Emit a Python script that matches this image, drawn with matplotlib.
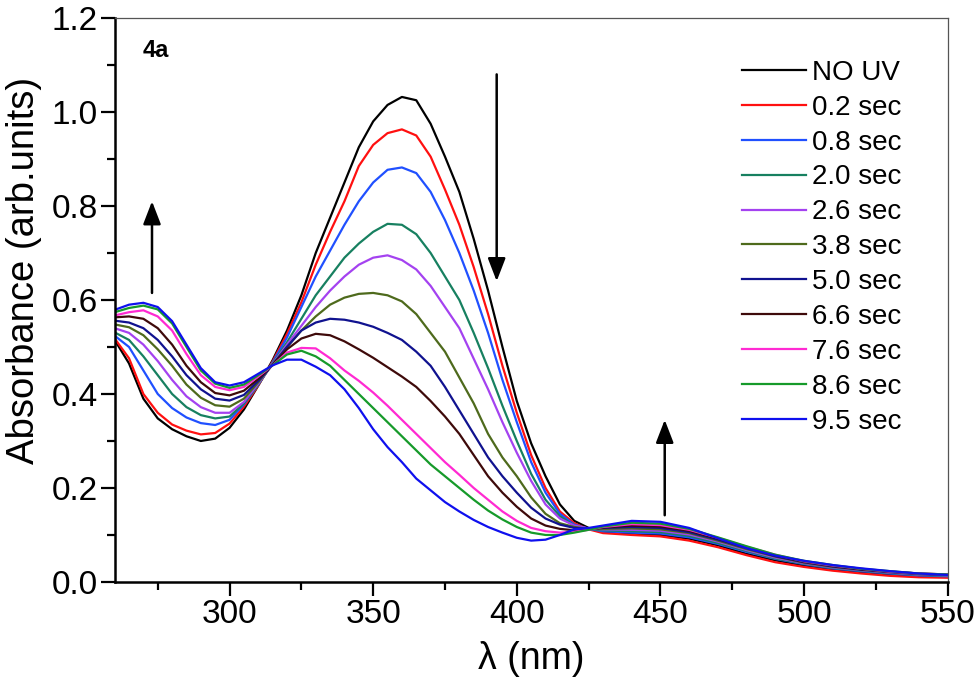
import numpy as np
import matplotlib
matplotlib.use("Agg")
import matplotlib.pyplot as plt
from matplotlib.ticker import MultipleLocator, FormatStrFormatter

plt.rcParams["font.family"] = ["Liberation Sans", "DejaVu Sans"]

# wavelength grid (nm)
wavelength = [260, 265, 270, 275, 280, 285, 290, 295, 300, 305, 310, 315,
              320, 325, 330, 335, 340, 345, 350, 355, 360, 365, 370, 375,
              380, 385, 390, 395, 400, 405, 410, 415, 420, 425,
              430, 440, 450, 460, 470, 480, 490, 500, 510, 520, 530, 540, 550]

labels = ["NO UV", "0.2 sec", "0.8 sec", "2.0 sec", "2.6 sec", "3.8 sec",
          "5.0 sec", "6.6 sec", "7.6 sec", "8.6 sec", "9.5 sec"]
colors = ["#000000", "#ff1010", "#2050ff", "#178060", "#a442f0", "#4e6a1c",
          "#10128f", "#3e0a0a", "#ff2ad2", "#169a2a", "#0f10ee"]

no_uv = [0.515, 0.465, 0.39, 0.348, 0.325, 0.31, 0.300, 0.305, 0.328, 0.367, 0.418, 0.472,
         0.535, 0.61, 0.70, 0.775, 0.85, 0.925, 0.98, 1.015, 1.032, 1.025, 0.975, 0.905,
         0.83, 0.73, 0.62, 0.50, 0.385, 0.295, 0.225, 0.165, 0.13, 0.115,
         0.106, 0.102, 0.10, 0.092, 0.078, 0.06, 0.046, 0.035, 0.027, 0.021, 0.016, 0.013, 0.012]
s0_2 = [0.518, 0.476, 0.40, 0.36, 0.335, 0.322, 0.314, 0.317, 0.337, 0.373, 0.418, 0.469,
        0.528, 0.595, 0.675, 0.745, 0.81, 0.885, 0.93, 0.955, 0.963, 0.95, 0.905, 0.835,
        0.76, 0.67, 0.57, 0.46, 0.36, 0.27, 0.20, 0.15, 0.125, 0.112,
        0.104, 0.10, 0.097, 0.088, 0.074, 0.057, 0.042, 0.032, 0.024, 0.018, 0.013, 0.01, 0.009]
s0_8 = [0.524, 0.50, 0.45, 0.40, 0.37, 0.35, 0.338, 0.334, 0.345, 0.378, 0.42, 0.467,
        0.52, 0.585, 0.65, 0.705, 0.76, 0.81, 0.85, 0.877, 0.882, 0.87, 0.83, 0.77,
        0.70, 0.62, 0.53, 0.43, 0.34, 0.255, 0.19, 0.145, 0.122, 0.113,
        0.108, 0.105, 0.103, 0.095, 0.081, 0.064, 0.049, 0.038, 0.029, 0.023, 0.018, 0.014, 0.012]
s2_0 = [0.531, 0.515, 0.48, 0.44, 0.40, 0.372, 0.355, 0.348, 0.352, 0.38, 0.42, 0.465,
        0.51, 0.56, 0.61, 0.65, 0.69, 0.72, 0.745, 0.762, 0.76, 0.74, 0.70, 0.65,
        0.60, 0.53, 0.455, 0.375, 0.30, 0.23, 0.175, 0.14, 0.12, 0.113,
        0.11, 0.108, 0.106, 0.098, 0.083, 0.066, 0.05, 0.039, 0.03, 0.024, 0.019, 0.015, 0.013]
s2_6 = [0.54, 0.53, 0.505, 0.47, 0.43, 0.395, 0.372, 0.36, 0.36, 0.383, 0.422, 0.464,
        0.505, 0.545, 0.585, 0.62, 0.65, 0.675, 0.69, 0.695, 0.685, 0.665, 0.63, 0.585,
        0.54, 0.475, 0.41, 0.34, 0.275, 0.215, 0.165, 0.135, 0.12, 0.114,
        0.112, 0.111, 0.109, 0.101, 0.086, 0.068, 0.052, 0.04, 0.031, 0.025, 0.02, 0.016, 0.014]
s3_8 = [0.548, 0.542, 0.525, 0.495, 0.46, 0.42, 0.392, 0.376, 0.373, 0.39, 0.425, 0.463,
        0.50, 0.535, 0.565, 0.59, 0.605, 0.613, 0.615, 0.61, 0.597, 0.57, 0.53, 0.49,
        0.435, 0.38, 0.315, 0.265, 0.225, 0.18, 0.145, 0.125, 0.117, 0.113,
        0.113, 0.114, 0.112, 0.104, 0.088, 0.07, 0.054, 0.041, 0.032, 0.026, 0.021, 0.017, 0.015]
s5_0 = [0.556, 0.552, 0.54, 0.515, 0.48, 0.44, 0.41, 0.39, 0.386, 0.398, 0.428, 0.462,
        0.50, 0.535, 0.552, 0.56, 0.558, 0.552, 0.543, 0.53, 0.515, 0.49, 0.46, 0.415,
        0.365, 0.315, 0.265, 0.225, 0.19, 0.158, 0.135, 0.122, 0.115, 0.113,
        0.115, 0.117, 0.115, 0.106, 0.09, 0.072, 0.055, 0.042, 0.033, 0.026, 0.021, 0.017, 0.015]
s6_6 = [0.563, 0.565, 0.56, 0.54, 0.505, 0.46, 0.425, 0.402, 0.397, 0.407, 0.432, 0.462,
        0.495, 0.518, 0.528, 0.525, 0.512, 0.495, 0.477, 0.457, 0.437, 0.415, 0.385, 0.352,
        0.315, 0.27, 0.225, 0.19, 0.16, 0.135, 0.12, 0.113, 0.11, 0.112,
        0.116, 0.12, 0.118, 0.109, 0.092, 0.073, 0.056, 0.043, 0.034, 0.027, 0.022, 0.018, 0.016]
s7_6 = [0.567, 0.574, 0.578, 0.565, 0.535, 0.485, 0.44, 0.415, 0.408, 0.415, 0.437, 0.461,
        0.488, 0.498, 0.497, 0.476, 0.45, 0.428, 0.403, 0.375, 0.345, 0.315, 0.285, 0.255,
        0.228, 0.2, 0.175, 0.15, 0.13, 0.115, 0.108, 0.105, 0.107, 0.111,
        0.117, 0.123, 0.121, 0.111, 0.094, 0.075, 0.058, 0.044, 0.035, 0.028, 0.022, 0.018, 0.016]
s8_6 = [0.574, 0.583, 0.588, 0.58, 0.55, 0.50, 0.45, 0.422, 0.413, 0.42, 0.44, 0.461,
        0.484, 0.492, 0.48, 0.46, 0.43, 0.40, 0.37, 0.34, 0.31, 0.28, 0.25, 0.225,
        0.2, 0.175, 0.152, 0.133, 0.117, 0.105, 0.1, 0.1, 0.105, 0.111,
        0.118, 0.126, 0.124, 0.113, 0.095, 0.076, 0.058, 0.045, 0.036, 0.028, 0.023, 0.018, 0.016]
s9_5 = [0.579, 0.59, 0.594, 0.585, 0.555, 0.505, 0.455, 0.425, 0.418, 0.425, 0.443, 0.461,
        0.473, 0.473, 0.458, 0.44, 0.41, 0.37, 0.325, 0.287, 0.255, 0.22, 0.195, 0.17,
        0.15, 0.132, 0.117, 0.105, 0.094, 0.088, 0.09, 0.1, 0.112, 0.115,
        0.12, 0.13, 0.128, 0.115, 0.093, 0.072, 0.056, 0.045, 0.036, 0.029, 0.023, 0.018, 0.015]

series = [no_uv, s0_2, s0_8, s2_0, s2_6, s3_8, s5_0, s6_6, s7_6, s8_6, s9_5]

fig = plt.figure(figsize=(9.8, 6.92), dpi=100)
ax = fig.add_axes([0.117, 0.159, 0.85, 0.815])

for y, lab, c in zip(series, labels, colors):
    ax.plot(wavelength, y, color=c, lw=1.6, label=lab, solid_joinstyle="round")

ax.set_xlim(260, 550)
ax.set_ylim(0, 1.2)
ax.xaxis.set_major_locator(MultipleLocator(50))
ax.xaxis.set_minor_locator(MultipleLocator(25))
ax.yaxis.set_major_locator(MultipleLocator(0.2))
ax.yaxis.set_minor_locator(MultipleLocator(0.1))
ax.yaxis.set_major_formatter(FormatStrFormatter("%.1f"))

ax.tick_params(which="both", direction="out", top=False, right=False, width=1.6)
ax.tick_params(which="major", length=10, labelsize=24, pad=2)
ax.tick_params(which="minor", length=6)
for s in ["left", "bottom"]:
    ax.spines[s].set_linewidth(1.8)
for s in ["top", "right"]:
    ax.spines[s].set_linewidth(0.9)
    ax.spines[s].set_color("#555555")

ax.set_xlabel("λ (nm)", fontsize=27)
ax.set_ylabel("Absorbance (arb.units)", fontsize=27.5)
ax.xaxis.set_label_coords(0.5, -0.105)
ax.yaxis.set_label_coords(-0.087, 0.553)

ax.text(269.7, 1.13, "4a", fontsize=17, fontweight="bold", va="center")

arrow = dict(arrowstyle="-|>,head_length=0.7,head_width=0.27", lw=1.8,
             color="black", mutation_scale=20, shrinkA=0, shrinkB=0)
ax.annotate("", xy=(273, 0.81), xytext=(273, 0.615), arrowprops=arrow)
ax.annotate("", xy=(393, 0.64), xytext=(393, 1.08), arrowprops=arrow)
ax.annotate("", xy=(451.5, 0.345), xytext=(451.5, 0.142), arrowprops=arrow)

ax.legend(loc="upper left", bbox_to_anchor=(0.7527, 0.926), frameon=False,
          fontsize=20, handlelength=2.3, handletextpad=0.25,
          labelspacing=0.32, borderaxespad=0, borderpad=0)

fig.savefig("out.png", dpi=100)
